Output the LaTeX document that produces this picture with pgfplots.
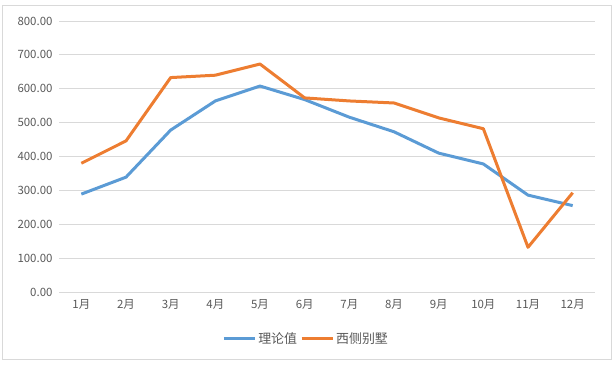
\documentclass[border=0pt]{standalone}
\usepackage{pgfplots}
\pgfplotsset{compat=1.18}
\usepackage{fontspec}
\setmainfont{Noto Sans CJK SC}
\definecolor{cblue}{HTML}{5B9BD5}
\definecolor{corange}{HTML}{ED7D31}
\definecolor{cgrid}{HTML}{D9D9D9}
\definecolor{ctext}{HTML}{595959}
\begin{document}
\begin{tikzpicture}[x=1bp,y=1bp]
\useasboundingbox (0,0) rectangle (614,364);
\draw[cgrid, line width=0.8bp] (2.5,4.5) rectangle (611,358.5);
\begin{axis}[
  at={(59bp,72bp)}, anchor=south west,
  scale only axis, width=536bp, height=271bp,
  xmin=0.5, xmax=12.5, ymin=0, ymax=800,
  xtick={1,...,12},
  xticklabels={1月,2月,3月,4月,5月,6月,7月,8月,9月,10月,11月,12月},
  ytick={0,100,...,800},
  ymajorgrids, grid style={cgrid, line width=0.8bp},
  axis line style={draw=none},
  major tick length=0pt,
  tick label style={font=\fontsize{11.5}{13}\selectfont, text=ctext},
  xticklabel style={yshift=-4bp},
  yticklabel style={xshift=-3bp},
  /pgf/number format/assume math mode=true,
  yticklabel={\pgfmathprintnumber[fixed,fixed zerofill,precision=2]{\tick}},
  legend columns=2,
  legend style={at={(0.461,-0.173)}, anchor=center, draw=none, fill=none,
    font=\fontsize{13}{15}\selectfont, text=ctext,
    /tikz/every even column/.append style={column sep=1bp}},
  legend image code/.code={\draw[#1, line width=3bp] (0bp,0bp) -- (31bp,0bp);},
]
\addplot[cblue, line width=3bp, line join=round] coordinates {
(1,289) (2,339) (3,478) (4,564) (5,608) (6,568) (7,516) (8,473) (9,410) (10,378) (11,286) (12,255)};
\addlegendentry{理论值}
\addplot[corange, line width=3bp, line join=round] coordinates {
(1,380) (2,446) (3,633) (4,640) (5,673) (6,573) (7,564) (8,558) (9,514) (10,482) (11,132) (12,293)};
\addlegendentry{西侧别墅}
\end{axis}
\end{tikzpicture}
\end{document}
